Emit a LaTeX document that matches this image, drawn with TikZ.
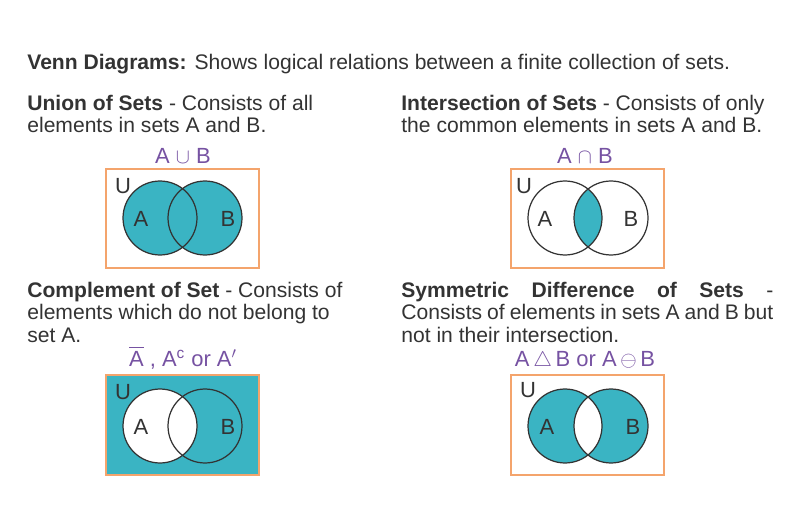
\documentclass[tikz,border=0pt]{standalone}
\usepackage{amsmath,amssymb}
\usepackage{fontspec}
\setmainfont{Liberation Sans}
\usepackage{xcolor}
\usepackage{tikz}
\usetikzlibrary{positioning}

\definecolor{setfill}{RGB}{58,180,195}
\definecolor{boxline}{RGB}{244,164,108}
\definecolor{labelpurple}{RGB}{118,82,162}
\definecolor{textgray}{RGB}{51,51,51}

\begin{document}
\begin{tikzpicture}[
    x=0.02cm, y=-0.02cm,
    every node/.style={font=\fontsize{12}{12.6}\selectfont, text=textgray, inner sep=0pt},
    heading/.style={anchor=base west, align=left},
    setlabel/.style={anchor=base, text=labelpurple, font=\fontsize{12.5}{13}\selectfont},
    universe/.style={draw=boxline, line width=0.8pt, minimum width=3.06cm, minimum height=1.98cm},
    setcircle/.style={circle, draw=textgray, line width=0.7pt, minimum size=1.48cm},
    letter/.style={font=\fontsize{12.5}{14}\selectfont}
]
\useasboundingbox (0,0) rectangle (800,523);

% Title
\node[heading] (title) at (27,70) {\textbf{Venn Diagrams:} Shows logical relations between a finite collection of sets.};

% Union of sets
\node[heading] (unionText) at (27,133) {\textbf{Union of Sets} - Consists of all\\elements in sets A and B.};
\node[setlabel] (unionLabel) at (183,164) {A $\cup$ B};
\node[universe] (unionBox) at (182.5,218.5) {};
\coordinate (uAc) at (160,218);
\coordinate (uBc) at (205,218);
\fill[setfill] (uAc) circle[radius=0.74cm] (uBc) circle[radius=0.74cm];
\node[setcircle] (uA) at (uAc) {};
\node[setcircle] (uB) at (uBc) {};
\node[letter] (uU) at (123,186) {U};
\node[letter] (uAl) at (141,219) {A};
\node[letter] (uBl) at (228,219) {B};

% Intersection of sets
\node[heading] (interText) at (401,133) {\textbf{Intersection of Sets} - Consists of only\\the common elements in sets A and B.};
\node[setlabel] (interLabel) at (585,164) {A $\cap$ B};
\node[universe] (interBox) at (587.5,218.5) {};
\coordinate (iAc) at (565,218);
\coordinate (iBc) at (611,218);
\begin{scope}
    \clip (iAc) circle[radius=0.74cm];
    \fill[setfill] (iBc) circle[radius=0.74cm];
\end{scope}
\node[setcircle] (iA) at (iAc) {};
\node[setcircle] (iB) at (iBc) {};
\node[letter] (iU) at (524,186) {U};
\node[letter] (iAl) at (545,219) {A};
\node[letter] (iBl) at (631,219) {B};

% Complement of set
\node[heading] (compText) at (27,342) {\textbf{Complement of Set} - Consists of\\elements which do not belong to\\set A.};
\node[setlabel] (compLabel) at (183,366) {$\overline{\text{A}}$ , A\textsuperscript{c} or A$'$};
\node[universe, fill=setfill, minimum height=2cm] (compBox) at (182.5,425) {};
\node[setcircle, fill=white] (cA) at (160,426) {};
\node[setcircle] (cB) at (205,426) {};
\node[letter] (cU) at (123,392) {U};
\node[letter] (cAl) at (141,427) {A};
\node[letter] (cBl) at (228,427) {B};

% Symmetric difference
\node[heading] (symText) at (401,342) {\makebox[7.44cm][s]{\textbf{Symmetric Difference of Sets} -}\\\makebox[7.44cm][s]{Consists of elements in sets A and B but}\\not in their intersection.};
\node[setlabel] (symLabel) at (585,366) {A\,$\triangle$\,B or A\,$\ominus$\,B};
\node[universe, minimum height=2cm] (symBox) at (587.5,425) {};
\coordinate (sAc) at (565,426);
\coordinate (sBc) at (611,426);
\fill[setfill, even odd rule] (sAc) circle[radius=0.74cm] (sBc) circle[radius=0.74cm];
\node[setcircle] (sA) at (sAc) {};
\node[setcircle] (sB) at (sBc) {};
\node[letter] (sU) at (528,390) {U};
\node[letter] (sAl) at (547,427) {A};
\node[letter] (sBl) at (633,427) {B};

\end{tikzpicture}
\end{document}
